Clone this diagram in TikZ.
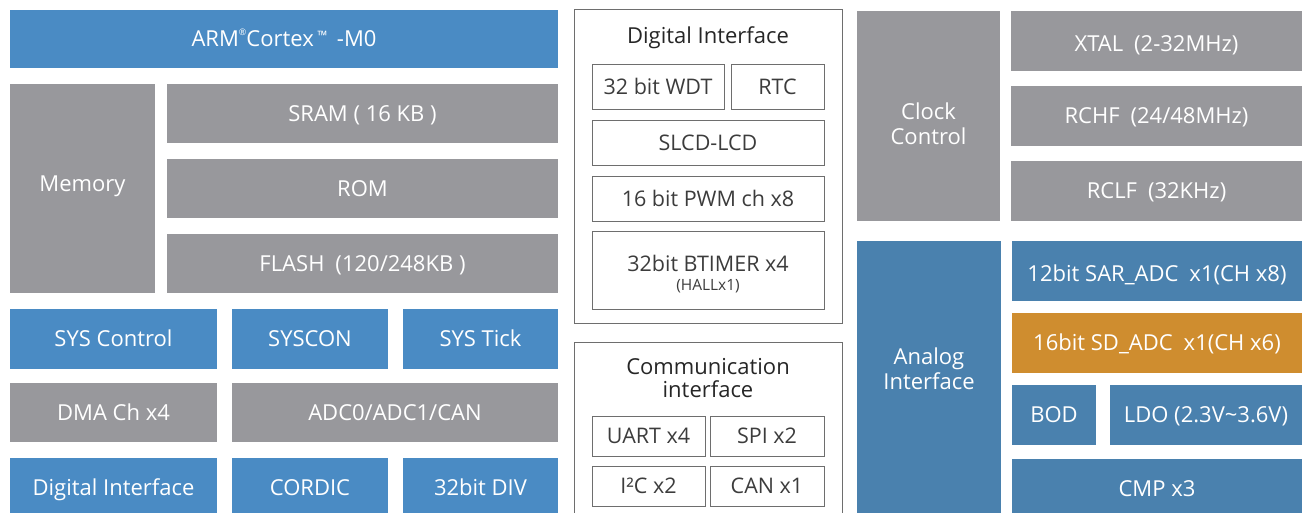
\documentclass[tikz,border=0pt]{standalone}
\usepackage{fontspec}
\setmainfont{Open Sans}
\usepackage{tikz}
\definecolor{chipblue}{RGB}{74,139,196}
\definecolor{chipgray}{RGB}{152,152,156}
\definecolor{anablue}{RGB}{74,129,174}
\definecolor{adcorange}{RGB}{207,141,47}
\definecolor{framegray}{RGB}{110,110,110}
\definecolor{celltext}{RGB}{60,60,60}

\begin{document}
\begin{tikzpicture}[
    x=1pt, y=-1pt,
    blk/.style={rectangle, inner sep=0pt, outer sep=0pt, text=white, font=\fontsize{22}{25}\selectfont, align=center, text height=15.7pt, text depth=0pt},
    blueblk/.style={blk, fill=chipblue},
    grayblk/.style={blk, fill=chipgray},
    anablk/.style={blk, fill=anablue},
    sdblk/.style={blk, fill=adcorange},
    low/.style={text height=21.7pt},
    lbl/.style={text=white, font=\fontsize{22}{25}\selectfont, align=center, inner sep=0pt, text height=, text depth=},
    frame/.style={rectangle, draw=framegray, line width=1pt, inner sep=0pt},
    cell/.style={rectangle, draw=framegray, line width=0.8pt, inner sep=0pt, text=celltext, font=\fontsize{21.5}{25}\selectfont, align=center, text height=15.35pt, text depth=0pt},
    title/.style={text=black!85, font=\fontsize{22}{23}\selectfont, align=center, inner sep=0pt, text height=15.7pt, text depth=0pt}
]
    \useasboundingbox (0,0) rectangle (1302,513);

    % Core
    \node[blueblk, minimum width=548pt, minimum height=58pt] (arm) at (284,39) {ARM\raisebox{0.5em}{\fontsize{9}{9}\selectfont ®}Cortex\,\raisebox{0.3em}{\fontsize{13}{13}\selectfont ™}\, -M0};

    % Memory
    \node[grayblk, minimum width=145pt, minimum height=209pt, text depth=9pt] (mem) at (82.5,188.5) {Memory};
    \node[grayblk, minimum width=391pt, minimum height=59pt] (sram) at (362.5,113.5) {SRAM ( 16 KB )};
    \node[grayblk, minimum width=391pt, minimum height=59pt] (rom) at (362.5,188.5) {ROM};
    \node[grayblk, minimum width=391pt, minimum height=59pt] (flash) at (362.5,263.5) {FLASH\enspace(120/248KB )};

    % System blocks
    \node[blueblk, minimum width=207pt, minimum height=60pt] (sysctl) at (113.5,339) {SYS Control};
    \node[blueblk, minimum width=156pt, minimum height=60pt] (syscon) at (310,339) {SYSCON};
    \node[blueblk, minimum width=155pt, minimum height=60pt] (systick) at (480.5,339) {SYS Tick};
    \node[grayblk, minimum width=207pt, minimum height=59pt] (dma) at (113.5,412.5) {DMA Ch x4};
    \node[grayblk, minimum width=326pt, minimum height=59pt] (adccan) at (395,412.5) {ADC0/ADC1/CAN};
    \node[blueblk, minimum width=207pt, minimum height=60pt] (digif) at (113.5,488) {Digital Interface};
    \node[blueblk, minimum width=156pt, minimum height=60pt] (cordic) at (310,488) {CORDIC};
    \node[blueblk, minimum width=155pt, minimum height=60pt] (div) at (480.5,488) {32bit DIV};

    % Digital interface
    \node[frame, minimum width=268pt, minimum height=313pt] (difr) at (708,166.5) {};
    \node[title] (dititle) at (708,36) {Digital Interface};
    \node[cell, minimum width=132pt, minimum height=45pt] (wdt) at (658,86.5) {32 bit WDT};
    \node[cell, minimum width=93pt, minimum height=45pt] (rtc) at (777.5,86.5) {RTC};
    \node[cell, minimum width=232pt, minimum height=45pt] (slcd) at (708,142.5) {SLCD-LCD};
    \node[cell, minimum width=232pt, minimum height=45pt] (pwm) at (708,198.5) {16 bit PWM ch x8};
    \node[cell, minimum width=232pt, minimum height=78pt,
          label={[lbl, text=celltext, font=\fontsize{21.5}{25}\selectfont, yshift=-4pt]center:32bit BTIMER x4\\[-6pt]{\fontsize{15.5}{17}\selectfont (HALLx1)}}] (btim) at (708,270) {};

    % Communication interface
    \node[frame, minimum width=268pt, minimum height=198pt] (cofr) at (708,441) {};
    \node[title, text height=, text depth=] (cotitle) at (708,378) {Communication\\interface};
    \node[cell, minimum width=113pt, minimum height=40pt] (uart) at (648.5,436) {UART x4};
    \node[cell, minimum width=114pt, minimum height=40pt] (spi) at (767,436) {SPI x2};
    \node[cell, minimum width=113pt, minimum height=40pt] (iic) at (648.5,486) {I²C x2};
    \node[cell, minimum width=114pt, minimum height=40pt] (can) at (767,486) {CAN x1};

    % Clock
    \node[grayblk, minimum width=143pt, minimum height=210pt,
          label={[lbl, yshift=-8pt]center:Clock\\Control}] (clk) at (928.5,116) {};
    \node[grayblk, low, minimum width=291pt, minimum height=60pt] (xtal) at (1156.5,41) {XTAL\enspace(2-32MHz)};
    \node[grayblk, minimum width=291pt, minimum height=60pt] (rchf) at (1156.5,116) {RCHF\enspace(24/48MHz)};
    \node[grayblk, minimum width=291pt, minimum height=60pt] (rclf) at (1156.5,191) {RCLF\enspace(32KHz)};

    % Analog
    \node[anablk, minimum width=144pt, minimum height=272pt,
          label={[lbl, yshift=8pt]center:Analog\\Interface}] (analog) at (929,377) {};
    \node[anablk, low, minimum width=290pt, minimum height=60pt] (sar) at (1157,271) {12bit SAR\_ADC\enspace x1(CH x8)};
    \node[sdblk, minimum width=290pt, minimum height=60pt] (sdadc) at (1157,343) {16bit SD\_ADC\enspace x1(CH x6)};
    \node[anablk, minimum width=84pt, minimum height=60pt] (bod) at (1054,415) {BOD};
    \node[anablk, minimum width=192pt, minimum height=60pt] (ldo) at (1206,415) {LDO (2.3V\textasciitilde3.6V)};
    \node[anablk, minimum width=290pt, minimum height=60pt] (cmp) at (1157,489) {CMP x3};
\end{tikzpicture}
\end{document}
